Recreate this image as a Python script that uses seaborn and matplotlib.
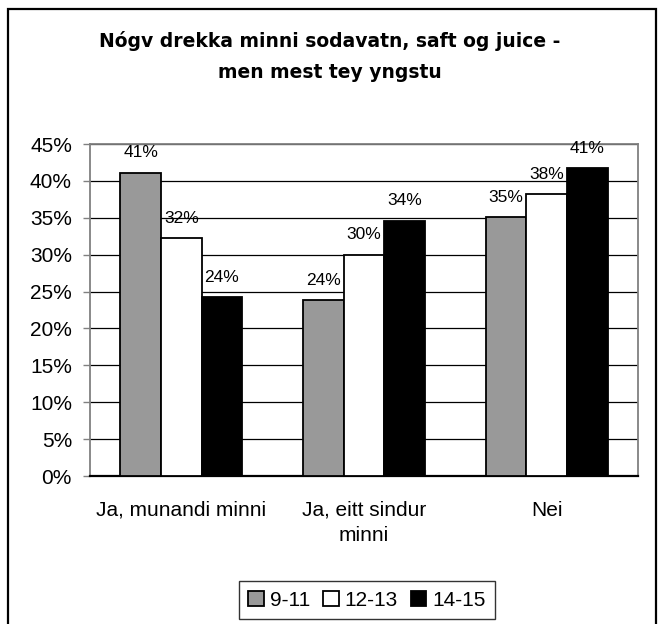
import matplotlib
matplotlib.use("Agg")
import matplotlib.pyplot as plt
import seaborn as sns
import pandas as pd
from matplotlib.patches import Rectangle
from matplotlib.ticker import FixedLocator

categories = ["Ja, munandi minni", "Ja, eitt sindur\nminni", "Nei"]
series = ["9-11", "12-13", "14-15"]
v_9_11 = [41.1, 23.8, 35.1]
v_12_13 = [32.2, 30.0, 38.2]
v_14_15 = [24.2, 34.6, 41.7]
label_9_11 = ["41%", "24%", "35%"]
label_12_13 = ["32%", "30%", "38%"]
label_14_15 = ["24%", "34%", "41%"]
colors = ["#999999", "#ffffff", "#000000"]
yticks = [0, 5, 10, 15, 20, 25, 30, 35, 40, 45]
title_lines = ["Nógv drekka minni sodavatn, saft og juice -", "men mest tey yngstu"]

rows = []
for s, vals in zip(series, [v_9_11, v_12_13, v_14_15]):
    for c, v in zip(categories, vals):
        rows.append({"cat": c, "grp": s, "val": v})
df = pd.DataFrame(rows)

sns.set_theme(style="white")
plt.rcParams["font.family"] = ["Liberation Sans", "DejaVu Sans"]
plt.rcParams["text.color"] = "black"
plt.rcParams["axes.labelcolor"] = "black"
plt.rcParams["xtick.color"] = "black"
plt.rcParams["ytick.color"] = "black"
plt.rcParams["xtick.labelcolor"] = "black"
plt.rcParams["ytick.labelcolor"] = "black"

W, H = 659, 624
fig = plt.figure(figsize=(W / 100, H / 100), dpi=100)
ax = fig.add_axes([90 / W, 1 - 476 / H, (638 - 90) / W, (476 - 144) / H])

sns.barplot(data=df, x="cat", y="val", hue="grp", order=categories, hue_order=series,
            palette=colors, edgecolor="black", linewidth=1.3, width=0.667,
            saturation=1, ax=ax, legend=True, zorder=3)

ax.set_xlim(-0.5, 2.5)
ax.set_ylim(0, 45)
ax.set_yticks(yticks)
ax.set_yticklabels([f"{t}%" for t in yticks], fontsize=15, color="black")
ax.yaxis.grid(True, color="black", linewidth=0.9, zorder=0)
ax.set_axisbelow(True)
ax.set_xlabel("")
ax.set_ylabel("")
ax.tick_params(axis="x", which="major", length=0, labelsize=15, pad=18, labelcolor="black")
ax.xaxis.set_minor_locator(FixedLocator([-0.5, 0.5, 1.5, 2.5]))
ax.tick_params(axis="x", which="minor", length=5, width=1, color="black", direction="out")
ax.tick_params(axis="y", length=5, width=1, color="#808080", direction="out", left=True,
               pad=8, labelcolor="black")
for t in ax.get_xticklabels():
    t.set_linespacing(1.4)
    t.set_color("black")

for sp in ["top", "right"]:
    ax.spines[sp].set_color("#808080")
    ax.spines[sp].set_linewidth(1.3)
ax.spines["left"].set_color("#808080")
ax.spines["left"].set_linewidth(1.3)
ax.spines["bottom"].set_color("black")
ax.spines["bottom"].set_linewidth(1.6)

for cont, labs in zip(ax.containers, [label_9_11, label_12_13, label_14_15]):
    ax.bar_label(cont, labels=labs, padding=9, fontsize=12.5, color="black")

leg = ax.get_legend()
handles = leg.legend_handles
leg.remove()
lg = fig.legend(handles, series, loc="center", bbox_to_anchor=(367 / W, 1 - 600 / H),
                ncol=3, frameon=True, fancybox=False, edgecolor="black", fontsize=15,
                handlelength=0.75, handleheight=0.75, handletextpad=0.3, columnspacing=0.6,
                borderpad=0.45, borderaxespad=0, labelcolor="black")
lg.get_frame().set_linewidth(1.0)

for i, line in enumerate(title_lines):
    fig.text(0.5, 1 - (41 + 32 * i) / H, line, ha="center", va="center", fontsize=13.5,
             fontweight="bold", family=["DejaVu Sans"], color="black")

fig.patches.append(Rectangle((8 / W, -0.1), (656 - 8) / W, 1 - 9 / H + 0.1,
                             transform=fig.transFigure, fill=False, edgecolor="black",
                             linewidth=1.6))

fig.savefig("out.png", dpi=100)
